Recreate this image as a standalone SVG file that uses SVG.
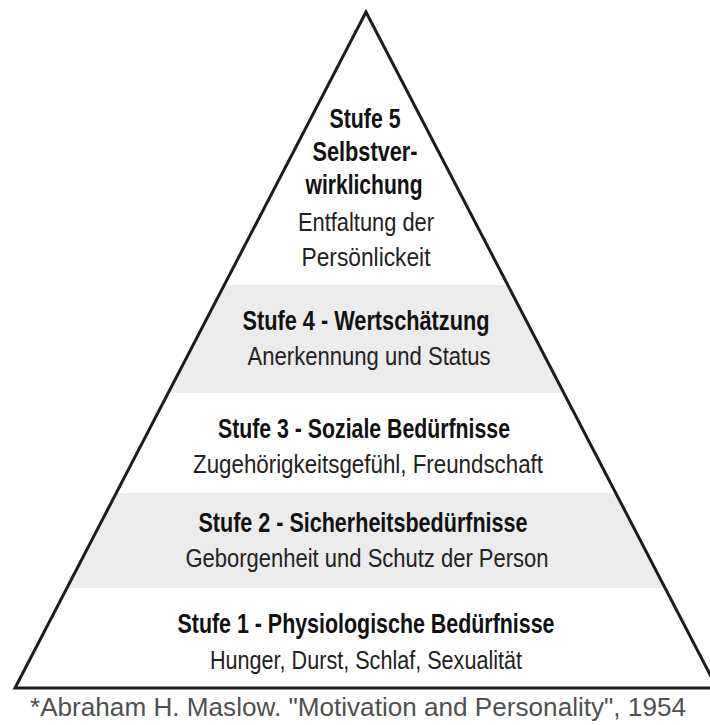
<svg xmlns="http://www.w3.org/2000/svg" width="710" height="725" viewBox="0 0 710 725">
  <style>
    .band { fill: #ececec; stroke: none; }
    .outline { fill: none; stroke: #1c1c1c; stroke-width: 3; stroke-linejoin: miter; }
    .t { font-family: "Liberation Sans", Arial, sans-serif; text-anchor: middle; fill: #111; }
    .b { font-weight: bold; font-size: 27px; }
    .r { font-weight: normal; font-size: 25px; fill: #222; }
    .foot { font-family: "Liberation Sans", Arial, sans-serif; font-size: 25px; fill: #505050; text-anchor: middle; }
  </style>
  <rect x="0" y="0" width="710" height="725" fill="#ffffff"/>

  <g id="level4-band">
    <polygon class="band" points="224.3,285 507.7,285 563.8,393 168.2,393"/>
  </g>
  <g id="level2-band">
    <polygon class="band" points="116.3,493 615.7,493 665.1,588 66.9,588"/>
  </g>

  <g id="pyramid-outline">
    <polygon class="outline" points="366,12 717,688 15,688"/>
  </g>

  <g id="level5">
    <text class="t b" x="365" y="128" textLength="71" lengthAdjust="spacingAndGlyphs">Stufe 5</text>
    <text class="t b" x="365" y="161" textLength="105" lengthAdjust="spacingAndGlyphs">Selbstver-</text>
    <text class="t b" x="364" y="194" textLength="117" lengthAdjust="spacingAndGlyphs">wirklichung</text>
    <text class="t r" x="366" y="231" textLength="136" lengthAdjust="spacingAndGlyphs">Entfaltung der</text>
    <text class="t r" x="366" y="266" textLength="129" lengthAdjust="spacingAndGlyphs">Persönlickeit</text>
  </g>

  <g id="level4">
    <text class="t b" x="366" y="330" textLength="247" lengthAdjust="spacingAndGlyphs">Stufe 4 - Wertschätzung</text>
    <text class="t r" x="369" y="365" textLength="243" lengthAdjust="spacingAndGlyphs">Anerkennung und Status</text>
  </g>

  <g id="level3">
    <text class="t b" x="364" y="438" textLength="292" lengthAdjust="spacingAndGlyphs">Stufe 3 - Soziale Bedürfnisse</text>
    <text class="t r" x="368" y="473" textLength="350" lengthAdjust="spacingAndGlyphs">Zugehörigkeitsgefühl, Freundschaft</text>
  </g>

  <g id="level2">
    <text class="t b" x="363" y="532" textLength="329" lengthAdjust="spacingAndGlyphs">Stufe 2 - Sicherheitsbedürfnisse</text>
    <text class="t r" x="367" y="567" textLength="363" lengthAdjust="spacingAndGlyphs">Geborgenheit und Schutz der Person</text>
  </g>

  <g id="level1">
    <text class="t b" x="366" y="633" textLength="377" lengthAdjust="spacingAndGlyphs">Stufe 1 - Physiologische Bedürfnisse</text>
    <text class="t r" x="366" y="669" textLength="312" lengthAdjust="spacingAndGlyphs">Hunger, Durst, Schlaf, Sexualität</text>
  </g>

  <g id="citation">
    <text class="foot" x="358" y="716" textLength="656" lengthAdjust="spacingAndGlyphs">*Abraham H. Maslow. "Motivation and Personality", 1954</text>
  </g>
</svg>
